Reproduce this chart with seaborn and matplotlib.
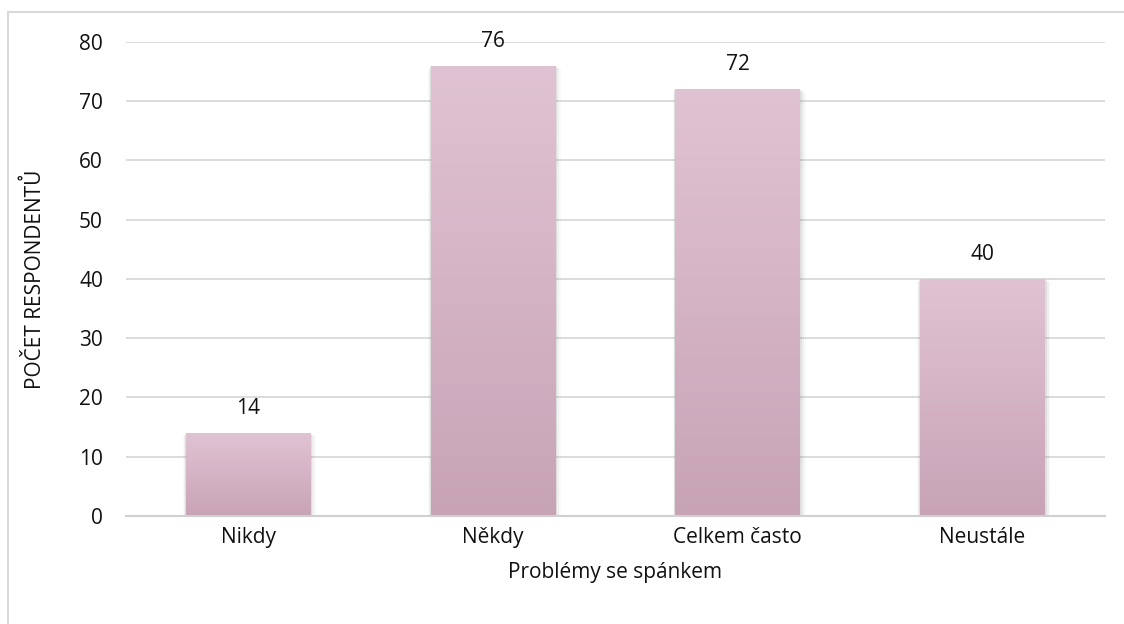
import numpy as np
import pandas as pd
import matplotlib
matplotlib.use("Agg")
import matplotlib.pyplot as plt
from matplotlib.patches import Rectangle
from matplotlib.colors import LinearSegmentedColormap
import seaborn as sns

categories = ["Nikdy", "Někdy", "Celkem často", "Neustále"]
counts = [14, 76, 72, 40]
y_ticks = [0, 10, 20, 30, 40, 50, 60, 70, 80]

sns.set_theme(style="white")
plt.rcParams["font.family"] = ["Open Sans", "DejaVu Sans"]

df = pd.DataFrame({"kategorie": categories, "pocet": counts})

fig = plt.figure(figsize=(11.24, 6.24), dpi=100)
ax = fig.add_axes([0.112, 0.173, 0.871, 0.760])

sns.barplot(data=df, x="kategorie", y="pocet", color="#d8b6c8",
            width=0.51, ax=ax, zorder=3, linewidth=0, edgecolor="none")

ax.set_ylim(0, 80)
ax.set_yticks(y_ticks)
ax.grid(axis="y", color="#d9d9d9", linewidth=1.3, zorder=0)
ax.grid(axis="x", visible=False)
for side in ["top", "right", "left"]:
    ax.spines[side].set_visible(False)
ax.spines["bottom"].set_color("#d0d0d0")
ax.spines["bottom"].set_linewidth(1.5)
ax.spines["bottom"].set_zorder(5)
ax.tick_params(axis="both", length=0, labelsize=15, colors="#111111")
ax.tick_params(axis="x", pad=8)
ax.tick_params(axis="y", pad=16.5)

ax.set_xlabel("Problémy se spánkem", fontsize=15, color="#111111", labelpad=10)
ax.set_ylabel("POČET RESPONDENTŮ", fontsize=15, color="#111111", labelpad=24)

# vertical gradient fill and soft shadow for each bar
grad = LinearSegmentedColormap.from_list("bar", ["#c8a3b6", "#e0c3d3"])
gradient = np.linspace(0, 1, 256).reshape(-1, 1)
bars = list(ax.patches)
for p in bars:
    x0, y0 = p.get_x(), p.get_y()
    w, h = p.get_width(), p.get_height()
    for k, a in enumerate([0.13, 0.08, 0.04]):
        grow = w * 0.012 * (k + 1)
        sh = Rectangle((x0 - grow * 0.6, y0 - 0.12 * (k + 1)),
                       w + grow * 1.8, h - 0.1 * k,
                       facecolor="#7a7a7a", edgecolor="none", alpha=a, zorder=2)
        ax.add_patch(sh)
    p.set_facecolor("none")
    im = ax.imshow(gradient, extent=[x0, x0 + w, y0, y0 + h], origin="lower",
                   cmap=grad, aspect="auto", zorder=3)
    im.set_clip_path(p)

ax.set_xlim(-0.5, len(categories) - 0.5)
ax.set_ylim(0, 80)

ax.bar_label(ax.containers[0], labels=[str(v) for v in counts],
             padding=10, fontsize=15, color="#111111")

# chart frame
fig.patches.append(Rectangle((8 / 1124, -0.05), 1.2, 1 - 12 / 624 + 0.05,
                             transform=fig.transFigure, fill=False,
                             edgecolor="#d9d9d9", linewidth=1.5, zorder=0))

fig.savefig("out.png", dpi=100)
